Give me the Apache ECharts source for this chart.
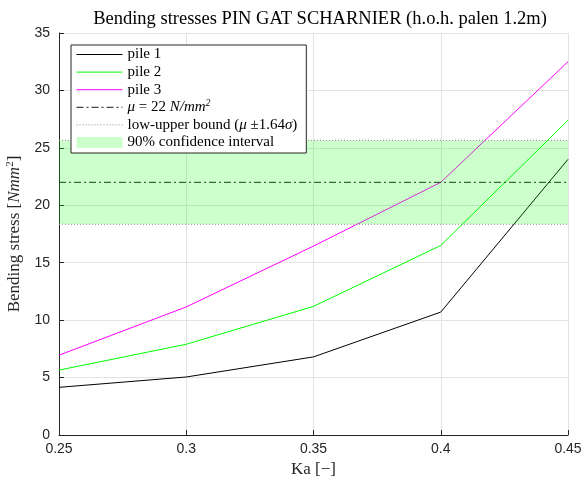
<!DOCTYPE html>
<html><head><meta charset="utf-8">
<script src="https://cdn.jsdelivr.net/npm/echarts@6/dist/echarts.min.js"></script>
<style>html,body{margin:0;padding:0;background:#fff}#c{width:585px;height:479px}</style>
</head><body><div id="c"></div>
<script>
const ka = [0.25, 0.30, 0.35, 0.40, 0.45];
const pile1 = [4.15, 5.05, 6.8, 10.7, 24.0];
const pile2 = [5.65, 7.9, 11.2, 16.5, 27.4];
const pile3 = [6.95, 11.15, 16.45, 22.0, 32.5];
const mu = 22;
const lowerBound = 18.35;
const upperBound = 25.65;
const xTicks = [0.25, 0.3, 0.35, 0.4, 0.45];
const yTicks = [0, 5, 10, 15, 20, 25, 30, 35];

const serif = '"Liberation Serif","DejaVu Serif",serif';
const sans = '"Liberation Sans",Arial,sans-serif';
const xr = [ka[0], ka[ka.length - 1]];
const pair = (arr) => ka.map((k, i) => [k, arr[i]]);
const hline = (v) => xr.map(k => [k, v]);

const chart = echarts.init(document.getElementById('c'), null, {renderer: 'canvas'});
chart.setOption({
  animation: false,
  backgroundColor: '#fff',
  title: {
    text: 'Bending stresses PIN GAT SCHARNIER (h.o.h. palen 1.2m)',
    left: 315, top: 5, textAlign: 'center',
    textStyle: {fontFamily: serif, fontSize: 18.5, fontWeight: 'normal', color: '#000'}
  },
  grid: {left: 59, right: 17, top: 33, bottom: 44, containLabel: false, outerBoundsMode: 'none'},
  legend: {
    orient: 'vertical', left: 71, top: 45, z: 50,
    padding: [1, 9, 2, 5],
    backgroundColor: '#fff', borderColor: '#262626', borderWidth: 1, borderRadius: 0,
    itemWidth: 46, itemHeight: 11, itemGap: 0.6,
    itemStyle: {opacity: 0},
    lineStyle: {width: 1},
    textStyle: {
      fontFamily: serif, fontSize: 15, color: '#000', lineHeight: 17,
      rich: {
        it: {fontFamily: serif, fontSize: 15, fontStyle: 'italic', color: '#000', lineHeight: 17},
        n: {fontFamily: serif, fontSize: 15, color: '#000', lineHeight: 17},
        s: {fontFamily: serif, fontSize: 10, fontStyle: 'italic', color: '#000', verticalAlign: 'top', lineHeight: 10}
      }
    },
    formatter: function (name) {
      if (name === 'mu') return '{it|μ} {n|= 22} {it|N/mm}{s|2}';
      if (name === 'bound') return '{n|low-upper bound (}{it|μ} {n|±1.64}{it|σ}{n|)}';
      return name;
    },
    data: [
      {name: 'pile 1'}, {name: 'pile 2'}, {name: 'pile 3'},
      {name: 'mu'}, {name: 'bound'},
      {name: '90% confidence interval', icon: 'rect', itemStyle: {color: 'rgba(0,255,0,0.2)', opacity: 1}}
    ]
  },
  xAxis: {
    type: 'value', min: 0.25, max: 0.45, interval: 0.05,
    name: 'Ka [−]', nameLocation: 'middle', nameGap: 22,
    nameTextStyle: {fontFamily: serif, fontSize: 17, color: '#262626', verticalAlign: 'top'},
    axisLine: {show: true, lineStyle: {color: '#262626', width: 1}},
    axisTick: {show: true, inside: true, length: 5, lineStyle: {color: '#262626'}},
    axisLabel: {fontFamily: sans, fontSize: 14, color: '#262626', margin: 7,
      formatter: v => String(parseFloat(v.toFixed(2)))},
    splitLine: {show: true, lineStyle: {color: '#e3e3e3', width: 1}}
  },
  yAxis: {
    type: 'value', min: 0, max: 35, interval: 5,
    name: 'Bending stress [{i|Nmm}{s|2}]', nameLocation: 'middle', nameGap: 31,
    nameTextStyle: {fontFamily: serif, fontSize: 17, color: '#262626',
      rich: {
        i: {fontFamily: serif, fontSize: 17, fontStyle: 'italic', color: '#262626'},
        s: {fontFamily: serif, fontSize: 11, fontStyle: 'normal', color: '#262626', verticalAlign: 'top', padding: [0, 0, 9, 0]}
      }},
    axisLine: {show: true, lineStyle: {color: '#262626', width: 1}},
    axisTick: {show: true, inside: true, length: 5, lineStyle: {color: '#262626'}},
    axisLabel: {fontFamily: sans, fontSize: 14, color: '#262626', margin: 9},
    splitLine: {show: true, lineStyle: {color: '#e3e3e3', width: 1}}
  },
  series: [
    {name: 'pile 1', type: 'line', data: pair(pile1), symbol: 'none', z: 3,
      lineStyle: {color: '#000', width: 1}, itemStyle: {color: '#000'}},
    {name: 'pile 2', type: 'line', data: pair(pile2), symbol: 'none', z: 3,
      lineStyle: {color: '#00ff00', width: 1}, itemStyle: {color: '#00ff00'}},
    {name: 'pile 3', type: 'line', data: pair(pile3), symbol: 'none', z: 3,
      lineStyle: {color: '#ff00ff', width: 1}, itemStyle: {color: '#ff00ff'}},
    {name: 'mu', type: 'line', data: hline(mu), symbol: 'none', z: 3,
      lineStyle: {color: '#1a1a1a', width: 1, type: [7, 3, 2, 3]}, itemStyle: {color: '#000'}},
    {name: 'bound', type: 'line', data: hline(upperBound), symbol: 'none', z: 3,
      lineStyle: {color: '#888', width: 1, type: [1, 2]}, itemStyle: {color: '#888'}},
    {name: 'bound', type: 'line', data: hline(lowerBound), symbol: 'none', z: 3,
      lineStyle: {color: '#888', width: 1, type: [1, 2]}, itemStyle: {color: '#888'}},
    {name: '90% confidence interval', type: 'line', data: hline(upperBound), symbol: 'none',
      lineStyle: {width: 0, opacity: 0},
      itemStyle: {color: 'rgba(0,255,0,0.2)'}, z: 10, silent: true,
      markArea: {
        silent: true, z: 10,
        itemStyle: {color: 'rgba(0,255,0,0.2)', opacity: 1},
        data: [[{xAxis: xr[0], yAxis: lowerBound}, {xAxis: xr[1], yAxis: upperBound}]]
      }}
  ]
});
</script>
</body></html>
